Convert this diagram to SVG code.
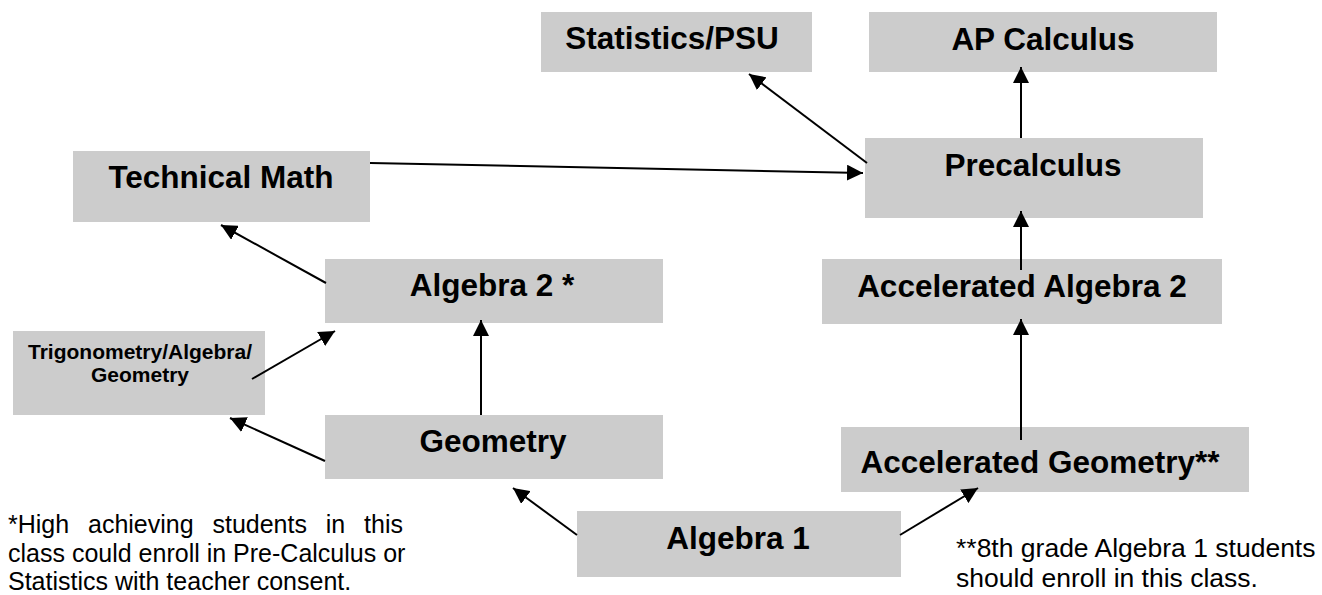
<svg xmlns="http://www.w3.org/2000/svg" width="1322" height="595" viewBox="0 0 1322 595">
<style>
.box{fill:#cccccc}
.lbl{font-family:"Liberation Sans",Arial,sans-serif;font-weight:bold;font-size:31.5px;fill:#000;text-anchor:middle}
.sm{font-size:21px}
.note{font-family:"Liberation Sans",Arial,sans-serif;font-size:25px;fill:#000}
.con{stroke:#000;stroke-width:2;fill:none;marker-end:url(#ah)}
</style>
<defs>
<marker id="ah" markerUnits="userSpaceOnUse" markerWidth="17" markerHeight="16" refX="16" refY="8" orient="auto">
<path d="M0,0 L16,8 L0,16 Z" fill="#000"/>
</marker>
</defs>
<rect width="1322" height="595" fill="#fff"/>
<g id="stats"><rect class="box" x="541" y="12" width="271" height="60"/><text class="lbl" x="672" y="49">Statistics/PSU</text></g>
<g id="apcalc"><rect class="box" x="869" y="12" width="348" height="60"/><text class="lbl" x="1043" y="50">AP Calculus</text></g>
<g id="techmath"><rect class="box" x="73" y="151" width="297" height="71"/><text class="lbl" x="221" y="188">Technical Math</text></g>
<g id="precalc"><rect class="box" x="865" y="138" width="338" height="80"/><text class="lbl" x="1033" y="176">Precalculus</text></g>
<g id="alg2"><rect class="box" x="325" y="259" width="338" height="64"/><text class="lbl" x="492" y="296">Algebra 2 *</text></g>
<g id="accalg2"><rect class="box" x="822" y="259" width="400" height="65"/><text class="lbl" x="1022" y="297">Accelerated Algebra 2</text></g>
<g id="trig"><rect class="box" x="13" y="331" width="252" height="84"/><text class="lbl sm" x="140" y="359">Trigonometry/Algebra/</text><text class="lbl sm" x="140" y="382">Geometry</text></g>
<g id="geometry"><rect class="box" x="325" y="415" width="338" height="64"/><text class="lbl" x="493" y="452">Geometry</text></g>
<g id="accgeom"><rect class="box" x="841" y="427" width="408" height="65"/><text class="lbl" x="1040" y="473">Accelerated Geometry**</text></g>
<g id="alg1"><rect class="box" x="577" y="511" width="324" height="66"/><text class="lbl" x="738" y="549">Algebra 1</text></g>
<g id="connectors">
<line class="con" x1="481" y1="415" x2="481" y2="320"/>
<line class="con" x1="1021" y1="138" x2="1021" y2="67"/>
<line class="con" x1="1021" y1="270" x2="1021" y2="211"/>
<line class="con" x1="1021" y1="440" x2="1021" y2="319"/>
<line class="con" x1="867" y1="163" x2="749" y2="74"/>
<line class="con" x1="370" y1="163" x2="863" y2="173"/>
<line class="con" x1="326" y1="283" x2="221" y2="225"/>
<line class="con" x1="252" y1="379" x2="335" y2="331"/>
<line class="con" x1="325" y1="461" x2="230" y2="418"/>
<line class="con" x1="577" y1="535" x2="513" y2="488"/>
<line class="con" x1="900" y1="535" x2="978" y2="488"/>
</g>
<g id="note-left">
<text class="note" x="8" y="533" word-spacing="11.9">*High achieving students in this</text>
<text class="note" x="8" y="562">class could enroll in Pre-Calculus or</text>
<text class="note" x="8" y="590">Statistics with teacher consent.</text>
</g>
<g id="note-right">
<text class="note" x="956" y="557" style="font-size:26.5px">**8th grade Algebra 1 students</text>
<text class="note" x="956" y="587" style="font-size:26.5px">should enroll in this class.</text>
</g>
</svg>
